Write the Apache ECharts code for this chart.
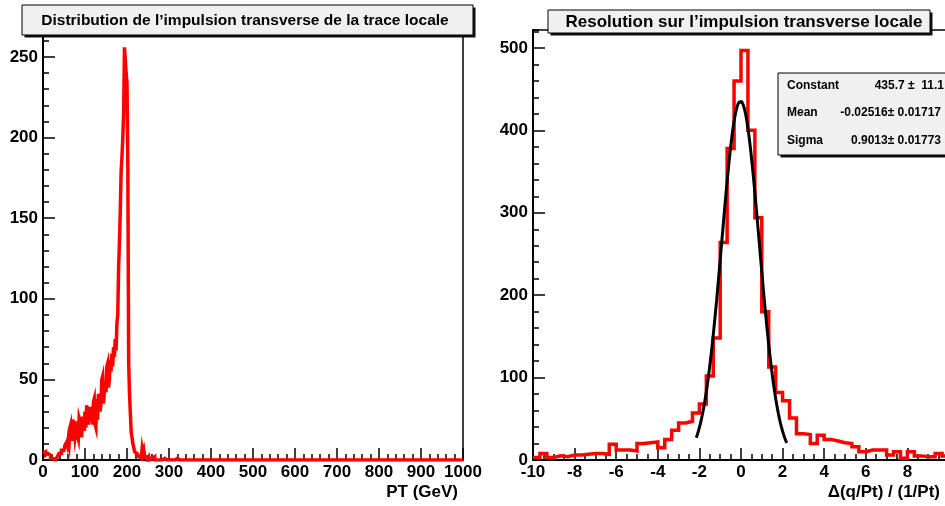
<!DOCTYPE html>
<html><head><meta charset="utf-8">
<script src="https://cdn.jsdelivr.net/npm/echarts@6/dist/echarts.min.js"></script>
<style>html,body{margin:0;padding:0;background:#fff}#c{width:945px;height:506px}</style>
</head><body><div id="c"></div>
<script>
// ---------- data ----------
const leftTitle = 'Distribution de l\u2019impulsion transverse de la trace locale';
const rightTitle = 'Resolution sur l\u2019impulsion transverse locale';
const leftXTitle = 'PT (GeV)';
const rightXTitle = '\u0394(q/Pt) / (1/Pt)';

// PT histogram: 2 GeV bins from 0 to 340 GeV
const ptBinStart = 0;
const ptBinWidth = 2;
const ptCounts = [
  4,4,5,3,3,  4,3,4,3,1,  0,1,0,1,0,  1,0,2,3,4,
  5,4,6,5,6,  6,9,8,11,9,  13,10,20,22,12,  16,25,24,14,18,
  24,15,13,26,27,  22,14,27,28,18,  30,20,34,35,22,  28,33,24,31,22,
  36,38,22,20,38,  25,41,42,30,36,  50,52,35,35,48,  42,58,60,45,50,
  62,55,66,58,70,  64,75,68,85,90,  119,135,154,179,188,  200,215,256,257,240,
  234,181,60,41,29,  17,14,10,8,5,  6,4,3,4,2,  3,1,2,7,4,
  6,2,1,2,0,  1,2,0,1,1,  0,1,2,0,1,  0,0,1,0,0,
  1,0,0,0,1,  0,0,0,1,0,  0,0,0,0,0,  0,0,1,0,1,
  1,0,0,0,0,  0,0,0,0,0
];
// PT histogram tail: 20 GeV bins from 340 to 1000 GeV (empty)
const ptTailStart = 340;
const ptTailBinWidth = 20;
const ptTailCounts = [0,0,0,0,0,0,0,0,0,0,0,0,0,0,0,0,0,0,0,0,0,0,0,0,0,0,0,0,0,0,0,0,0];

// Resolution histogram: 60 bins from -10 to 10
const resBinStart = -10;
const resBinWidth = 1/3;
const resCounts = [
  3,8,3,5,4,6,6,7,8,8,
  7,19,12,12,11,20,21,22,15,25,
  36,45,47,57,68,102,148,264,378,460,
  497,400,294,180,113,82,72,51,32,31,
  20,30,25,23,21,20,16,10,12,12,
  12,6,10,2,10,5,4,4,8,5
];

// Gaussian fit (parameters shown in the stats box)
const fitNames = ['Constant', 'Mean', 'Sigma'];
const fitValues = [435.7, -0.02516, 0.9013];
const fitTexts = ['435.7 \u00b1  11.1', '-0.02516\u00b1 0.01717', '0.9013\u00b1 0.01773'];
const fitRange = [-2.15, 2.2];

// axes
const ptAxis = {min: 0, max: 1000, major: 100};
const ptCountAxis = {min: 0, max: 268.8, major: 50, minor: 10};
const resAxis = {min: -10, max: 10, major: 2};
const resCountAxis = {min: 0, max: 521.8, major: 100, minor: 20};

// ---------- build ----------
function outline(start, width, counts) {
  const pts = [];
  for (let i = 0; i < counts.length; i++) {
    const lo = start + i * width, hi = start + (i + 1) * width;
    pts.push([lo, counts[i]]);
    pts.push([hi, counts[i]]);
  }
  return pts;
}
const ptData = outline(ptBinStart, ptBinWidth, ptCounts)
  .concat(outline(ptTailStart, ptTailBinWidth, ptTailCounts));
const resData = outline(resBinStart, resBinWidth, resCounts);
const fitData = [];
for (let x = fitRange[0]; x <= fitRange[1] + 1e-9; x += 0.025) {
  const z = (x - fitValues[1]) / fitValues[2];
  fitData.push([x, fitValues[0] * Math.exp(-0.5 * z * z)]);
}

const FONT = "'Liberation Sans', Arial, Helvetica, sans-serif";
const lbl = {color: '#000', fontSize: 17, fontWeight: 'bold', fontFamily: FONT,
             formatter: function (v) { return String(Math.round(v * 1000) / 1000); }};

function xAx(grid, a, minorSplit, showMax) {
  return {
    type: 'value', gridIndex: grid, min: a.min, max: a.max, interval: a.major,
    axisLine: {show: true, onZero: false, lineStyle: {color: '#000', width: 2}},
    axisTick: {show: true, inside: true, length: 12, lineStyle: {color: '#000', width: 1.5}},
    minorTick: {show: true, splitNumber: minorSplit, length: 6, lineStyle: {color: '#000', width: 1.5}},
    splitLine: {show: false},
    axisLabel: Object.assign({margin: 4, showMaxLabel: showMax, showMinLabel: true}, lbl)
  };
}
function yMinor(grid, a) {
  return {
    type: 'value', gridIndex: grid, position: 'left', min: a.min, max: a.max, interval: a.minor,
    axisLine: {show: true, onZero: false, lineStyle: {color: '#000', width: 2}},
    axisTick: {show: true, inside: true, length: 6, lineStyle: {color: '#000', width: 1.5}},
    splitLine: {show: false}, axisLabel: {show: false}
  };
}
function yMajor(grid, a) {
  return {
    type: 'value', gridIndex: grid, position: 'left', min: a.min, max: a.max, interval: a.major,
    axisLine: {show: false, onZero: false},
    axisTick: {show: true, inside: true, length: 12, lineStyle: {color: '#000', width: 1.5}},
    splitLine: {show: false},
    axisLabel: Object.assign({margin: 5, showMaxLabel: false}, lbl)
  };
}

function box(x, y, w, h, shadow) {
  return [
    {type: 'rect', z: 100, shape: {x: x + shadow, y: y + shadow, width: w, height: h}, style: {fill: '#111'}},
    {type: 'rect', z: 101, shape: {x: x, y: y, width: w, height: h}, style: {fill: '#f0f0f0', stroke: '#000', lineWidth: 1}}
  ];
}
function txt(t, x, y, size, align) {
  return {type: 'text', z: 102, style: {text: t, x: x, y: y, fill: '#000',
    font: 'bold ' + size + 'px ' + FONT, align: align, textAlign: align,
    verticalAlign: 'middle', textVerticalAlign: 'middle'}};
}

const graphics = [].concat(
  box(22, 5, 451, 30, 2.5),
  [txt(leftTitle, 245, 21, 15.5, 'center')],
  box(548, 10, 382, 23, 2.5),
  [txt(rightTitle, 744, 22, 17, 'center')],
  box(778, 73, 180, 82, 2.5),
  [
    txt(fitNames[0], 787, 86, 12, 'left'),
    txt(fitNames[1], 787, 113, 12, 'left'),
    txt(fitNames[2], 787, 141, 12, 'left'),
    txt(fitTexts[0], 944, 86, 12, 'right'),
    txt(fitTexts[1], 941, 113, 12, 'right'),
    txt(fitTexts[2], 941, 141, 12, 'right')
  ],
  [txt(leftXTitle, 458, 492, 17, 'right'), txt(rightXTitle, 940, 492, 17, 'right')]
);

const chart = echarts.init(document.getElementById('c'), null, {renderer: 'canvas'});
chart.setOption({
  animation: false,
  backgroundColor: '#fff',
  textStyle: {fontFamily: FONT},
  grid: [
    {left: 43, top: 26.7, width: 420, height: 433.3, show: true, borderColor: '#000', borderWidth: 1.5, backgroundColor: 'transparent', containLabel: false, outerBoundsMode: 'none'},
    {left: 533, top: 30, width: 416, height: 430, show: true, borderColor: '#000', borderWidth: 1.5, backgroundColor: 'transparent', containLabel: false, outerBoundsMode: 'none'}
  ],
  xAxis: [xAx(0, ptAxis, 5, true), xAx(1, resAxis, 4, false)],
  yAxis: [yMinor(0, ptCountAxis), yMajor(0, ptCountAxis), yMinor(1, resCountAxis), yMajor(1, resCountAxis)],
  series: [
    {type: 'line', xAxisIndex: 0, yAxisIndex: 0, data: ptData, symbol: 'none', showSymbol: false,
     lineStyle: {color: '#ff0000', width: 3.5, join: 'miter', cap: 'butt'}, z: 3},
    {type: 'line', xAxisIndex: 1, yAxisIndex: 2, data: resData, symbol: 'none', showSymbol: false,
     lineStyle: {color: '#ff0000', width: 3.5, join: 'miter', cap: 'butt'}, z: 3},
    {type: 'line', xAxisIndex: 1, yAxisIndex: 2, data: fitData, symbol: 'none', showSymbol: false,
     lineStyle: {color: '#000', width: 3}, z: 4}
  ],
  graphic: graphics
});
</script></body></html>
